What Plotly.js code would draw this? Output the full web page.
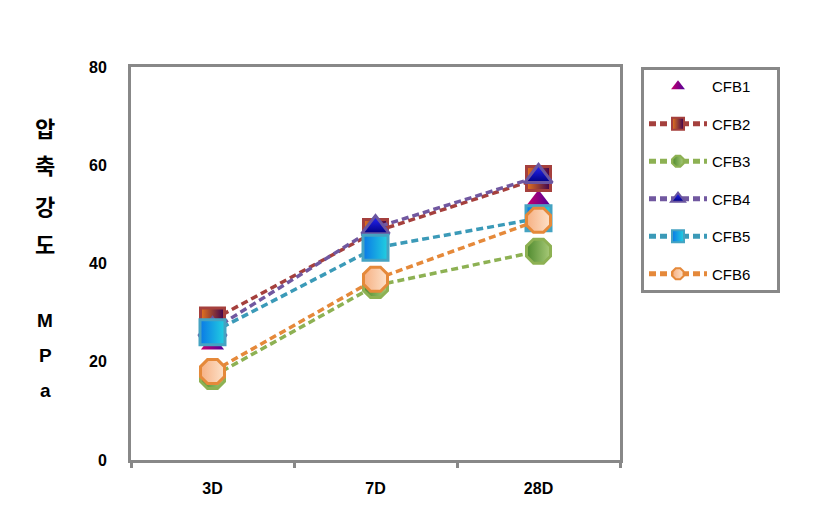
<!DOCTYPE html>
<html>
<head>
<meta charset="utf-8">
<script src="https://cdn.plot.ly/plotly-3.0.1.min.js"></script>
<style>html,body{margin:0;padding:0;background:#fff;}#chart{width:819px;height:524px;}</style>
</head>
<body>
<div id="chart"></div>
<script>
const categories = ['3D', '7D', '28D'];
const seriesNames = ['CFB1', 'CFB2', 'CFB3', 'CFB4', 'CFB5', 'CFB6'];
const CFB1 = [23.5, 46, 53];
const CFB2 = [28.5, 46.5, 57.3];
const CFB3 = [17, 35.5, 42.5];
const CFB4 = [26.5, 47.3, 57.7];
const CFB5 = [26, 43.2, 49.2];
const CFB6 = [18, 36.8, 48.8];
const yTicks = [0, 20, 40, 60, 80];
const yTitleChars = ['압', '축', '강', '도', '', 'M', 'P', 'a'];

const values = [CFB1, CFB2, CFB3, CFB4, CFB5, CFB6];
const styles = [
  {mode: 'markers', line: '#a03070', symbol: 'triangle-up', fill: '#c8006a', grad: '#50009a', gtype: 'horizontal', size: 20, mline: '#9a2a80', mlw: 0},
  {mode: 'lines+markers', line: '#a5403d', symbol: 'square', fill: '#e8761c', grad: '#3a0050', gtype: 'horizontal', size: 24, mline: '#a5403d', mlw: 3},
  {mode: 'lines+markers', line: '#8db153', symbol: 'octagon', fill: '#4f8a2e', grad: '#a8ca78', gtype: 'horizontal', size: 26, mline: '#8db153', mlw: 3},
  {mode: 'lines+markers', line: '#7158a0', symbol: 'triangle-up', fill: '#2828ff', grad: '#000080', gtype: 'vertical', size: 24, mline: '#6a55a0', mlw: 3},
  {mode: 'lines+markers', line: '#3b9ab8', symbol: 'square', fill: '#0a78e6', grad: '#22d0e0', gtype: 'horizontal', size: 25, mline: '#45a3c2', mlw: 3},
  {mode: 'lines+markers', line: '#e5893a', symbol: 'octagon', fill: '#f6b083', grad: '#fde2ca', gtype: 'horizontal', size: 26, mline: '#e5893a', mlw: 3}
];

const pad = '\u00a0\u00a0\u00a0\u00a0\u00a0';
const traces = seriesNames.map((name, i) => ({
  type: 'scatter',
  x: categories,
  y: values[i],
  name: name + pad,
  legendgroup: name,
  mode: styles[i].mode,
  line: {color: styles[i].line, width: 3.5, dash: '7px,4px'},
  marker: {
    symbol: styles[i].symbol,
    size: styles[i].size,
    color: styles[i].fill,
    gradient: {type: styles[i].gtype, color: styles[i].grad},
    line: {color: styles[i].mline, width: styles[i].mlw}
  },
  cliponaxis: false
}));

const annotations = [];
const charY = [127, 164, 205, 243, 0, 320, 355, 390];
yTitleChars.forEach((c, i) => {
  if (!c) return;
  annotations.push({
    text: c, xref: 'paper', yref: 'paper',
    x: (45 - 131) / 489, y: 1 - (charY[i] - 67) / 393,
    xanchor: 'center', yanchor: 'middle', showarrow: false,
    font: {family: i < 4 ? 'Noto Sans CJK KR' : 'Liberation Sans', size: i < 4 ? 22 : 19, weight: 'bold', color: '#000'}
  });
});

const layout = {
  width: 819, height: 524,
  margin: {l: 131, r: 199, t: 67, b: 64},
  paper_bgcolor: '#fff', plot_bgcolor: '#fff',
  showlegend: true,
  xaxis: {
    type: 'category', range: [-0.5, 2.5],
    showline: true, linecolor: '#888', linewidth: 3, mirror: true,
    showgrid: false, zeroline: false,
    ticks: 'outside', tickson: 'boundaries', ticklen: 5, tickwidth: 3, tickcolor: '#888',
    tickfont: {family: 'Liberation Sans', size: 16, weight: 'bold', color: '#000'},
    ticklabelstandoff: 12
  },
  yaxis: {
    range: [0, 80], tickvals: yTicks, ticktext: yTicks.map(String),
    showline: true, linecolor: '#888', linewidth: 3, mirror: true,
    showgrid: false, zeroline: false, ticks: '',
    tickfont: {family: 'Liberation Sans', size: 16, weight: 'bold', color: '#000'},
    ticklabelstandoff: 18
  },
  legend: {
    x: (641 - 131) / 489, y: 1.0, xanchor: 'left', yanchor: 'top',
    bgcolor: '#fff', bordercolor: '#888', borderwidth: 3,
    font: {family: 'Liberation Sans', size: 15, color: '#000'},
    traceorder: 'grouped', tracegroupgap: 15, itemsizing: 'constant', itemwidth: 58
  },
  annotations: annotations
};

Plotly.newPlot('chart', traces, layout, {staticPlot: true, displayModeBar: false});
</script>
</body>
</html>
